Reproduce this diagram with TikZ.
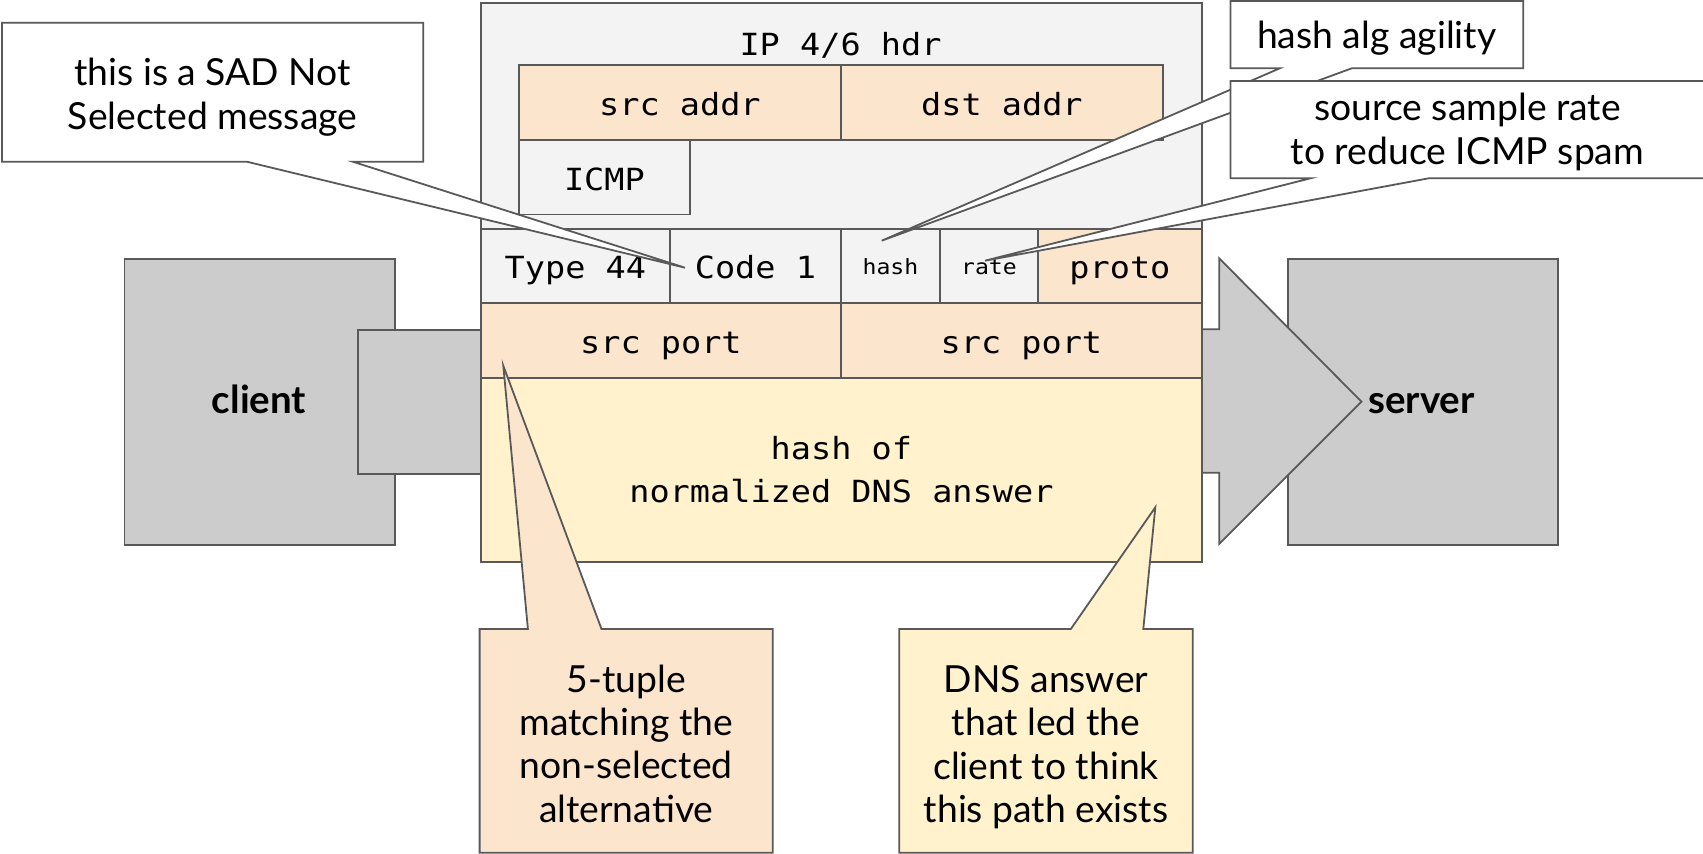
\documentclass[tikz,border=0pt]{standalone}
\usepackage{fontspec}
\setmainfont{Lato}
\newfontfamily\monofont[FakeStretch=1.1]{DejaVu Sans Mono}
\definecolor{bordergray}{HTML}{595959}
\definecolor{boxgray}{HTML}{CCCCCC}
\definecolor{ipgray}{HTML}{F3F3F3}
\definecolor{peach}{HTML}{FCE5CD}
\definecolor{cream}{HTML}{FFF2CC}
\newcommand\pcell[7]{\node[cell,fill=#6,minimum width={(#4-#2)*1pt},minimum height={(#5-#3)*1pt}] (#1) at (#2,#3) {#7};}
\newcommand\gbox[6]{\node[bd,fill=#6,anchor=north west,inner sep=0pt,minimum width={(#4-#2)*1pt},minimum height={(#5-#3)*1pt}] (#1) at (#2,#3) {};}
\begin{document}
\begin{tikzpicture}[x=1pt,y=-1pt,
  bd/.style={draw=bordergray,line width=1.8pt},
  cellbase/.style={bd,anchor=north west,inner sep=0pt,align=center,
    font=\monofont\fontsize{30.5}{43.5}\selectfont},
  cell/.style={cellbase,text height=26pt,text depth=0pt},
  smallcell/.style={cell,font=\monofont\fontsize{21}{25}\selectfont,text height=18pt},
  lbl/.style={font=\fontsize{37.3}{43.4}\selectfont,align=center,inner sep=0pt},
  bold/.style={font=\fontsize{38.5}{43.4}\selectfont\bfseries,inner sep=0pt},
  callout/.style={bd,line join=miter}]
\useasboundingbox (0,0) rectangle (1703,854);
\clip (0,0) rectangle (1703,854);

% client and server
\gbox{client}{123.6}{258.3}{394.2}{544}{boxgray}
\node[bold,anchor=base] (clienttxt) at (259,413.3) {client};
\gbox{server}{1287}{258.3}{1557}{544}{boxgray}
\draw[bd,fill=boxgray,line join=miter] (1201,329.3) -- (1219.2,329.3) -- (1219.2,258.3) -- (1361.5,401.7) -- (1219.2,544) -- (1219.2,472.7) -- (1201,472.7) -- cycle;
\node[bold,anchor=base] (servertxt) at (1421.5,413.3) {server};
\gbox{plug}{356.7}{329.3}{480}{472.7}{boxgray}

% IP header
\gbox{iphdr}{480}{2}{1201}{228}{ipgray}
\node[font=\monofont\fontsize{30.5}{43.5}\selectfont,anchor=base,inner sep=0pt] (iptxt) at (840.5,55) {IP 4/6 hdr};
\pcell{srcaddr}{518}{64.3}{840}{139}{peach}{src addr}
\pcell{dstaddr}{840}{64.3}{1162}{139}{peach}{dst addr}
\pcell{icmp}{518}{139}{689}{213.5}{ipgray}{ICMP}

% ICMP row
\pcell{type}{480}{228}{669}{301.7}{ipgray}{Type 44}
\pcell{code}{669}{228}{840}{301.7}{ipgray}{Code 1}
\node[smallcell,fill=ipgray,minimum width=99pt,minimum height=73.7pt] (hash) at (840,228) {hash};
\node[smallcell,fill=ipgray,minimum width=98pt,minimum height=73.7pt] (rate) at (939,228) {rate};
\pcell{proto}{1037}{228}{1201}{301.7}{peach}{proto}
\pcell{sport1}{480}{301.7}{840}{376.7}{peach}{src port}
\pcell{sport2}{840}{301.7}{1201}{376.7}{peach}{src port}
\node[cellbase,fill=cream,minimum width=721pt,minimum height=184.3pt] (dnshash) at (480,376.7) {hash of\\normalized DNS answer};

% tips
\coordinate (sadtip) at (685,267.7);
\coordinate (hashtip) at (881.7,240.7);
\coordinate (ratetip) at (985,260.7);
\coordinate (tupletip) at (503.3,365.7);
\coordinate (dnstip) at (1155.3,507.3);

% callouts
\draw[callout,fill=white] (2,22.7) -- (423.3,22.7) -- (423.3,161.7) -- (352.8,161.7) -- (sadtip) -- (246.8,161.7) -- (2,161.7) -- cycle;
\node[lbl] (sad) at (212.6,97) {this is a SAD Not\\Selected message};

\draw[callout,fill=white] (1230.4,1) -- (1523.2,1) -- (1523.2,68.3) -- (1351.8,68.3) -- (hashtip) -- (1279.8,68.3) -- (1230.4,68.3) -- cycle;
\node[lbl,anchor=base] (agility) at (1376.8,48.3) {hash alg agility};

\draw[callout,fill=white] (1230.4,81) -- (1712,81) -- (1712,178.3) -- (1428.7,178.3) -- (ratetip) -- (1310.5,178.3) -- (1230.4,178.3) -- cycle;
\node[lbl] (sample) at (1467.5,132.1) {source sample rate\\to reduce ICMP spam};

\draw[callout,fill=peach] (479.6,629) -- (527.9,629) -- (tupletip) -- (601.5,629) -- (772.7,629) -- (772.7,852.7) -- (479.6,852.7) -- cycle;
\node[lbl] (tuple) at (626.2,743.7) {5-tuple\\matching the\\non-selected\\alternative};

\draw[callout,fill=cream] (899.3,629) -- (1070.8,629) -- (dnstip) -- (1143.3,629) -- (1192.8,629) -- (1192.8,852.7) -- (899.3,852.7) -- cycle;
\node[lbl] (dnsans) at (1046,747.3) {DNS answer\\that led the\\client to think\\this path exists};
\end{tikzpicture}
\end{document}
